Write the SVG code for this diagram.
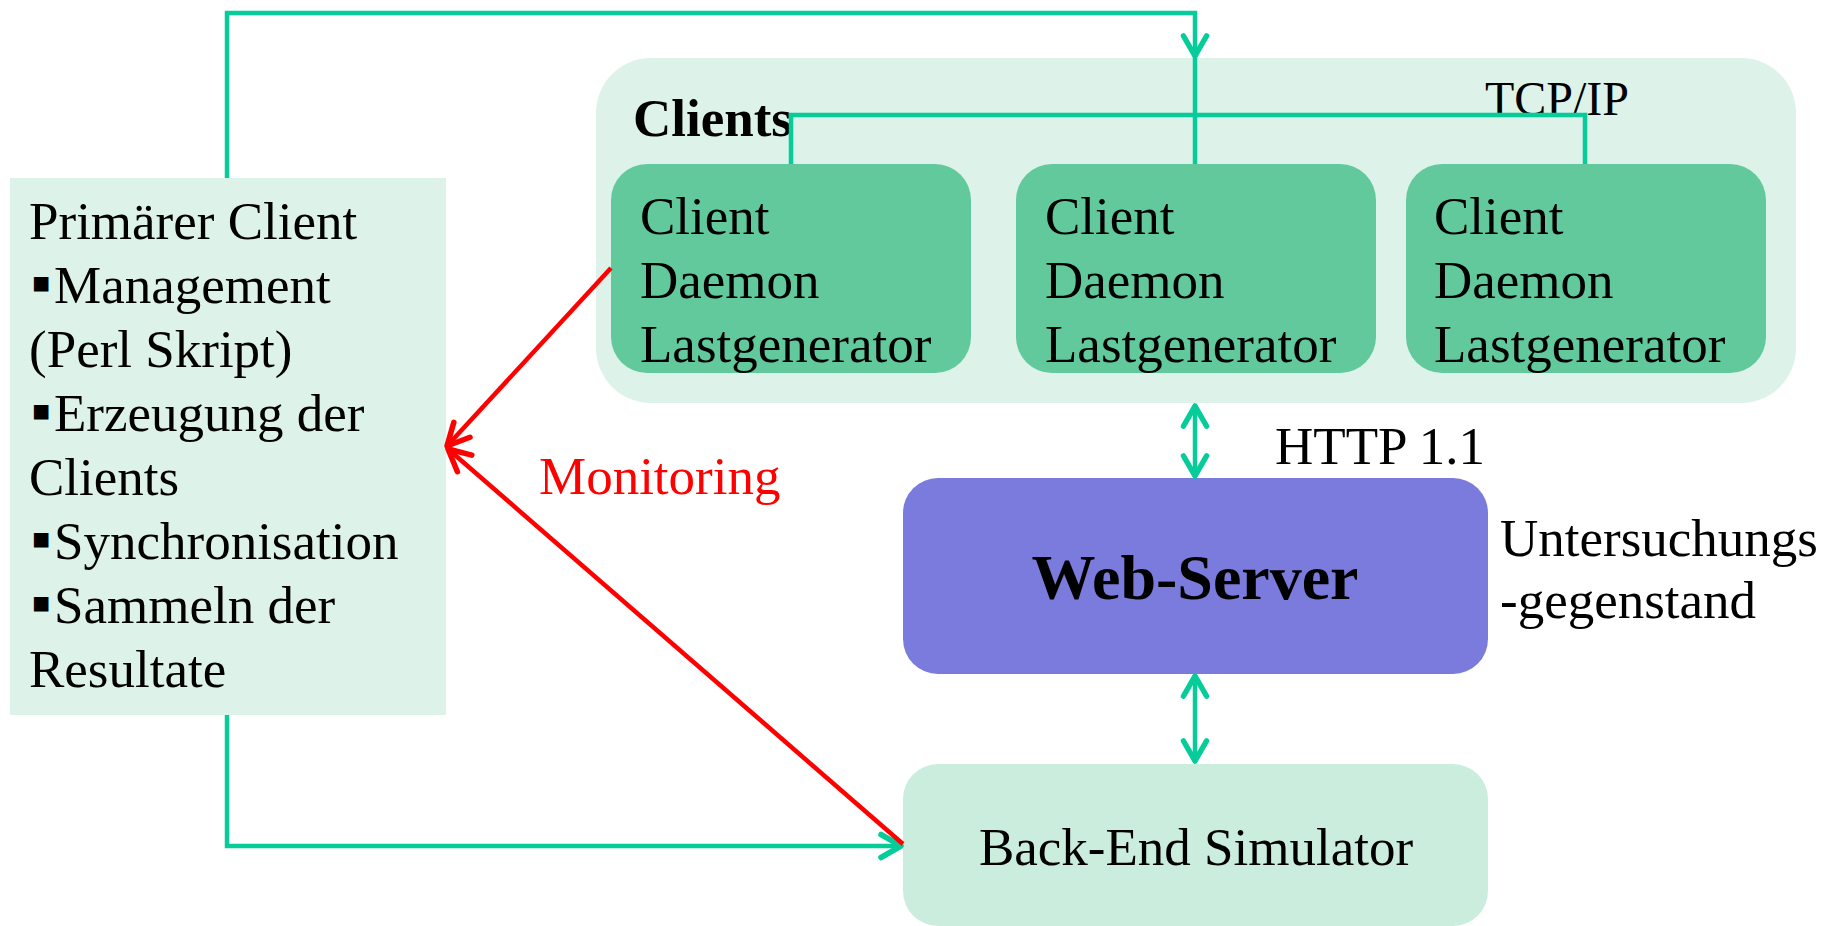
<svg xmlns="http://www.w3.org/2000/svg" width="1828" height="926" viewBox="0 0 1828 926">
  <style>
    .t { font-family: "Liberation Serif", "Times New Roman", serif; font-size: 53px; fill: #000; }
    .b { font-weight: bold; }
    .bul { font-family: "Liberation Sans", "DejaVu Sans", sans-serif; font-size: 30px; }
    .g { fill: none; stroke: #06CC9A; stroke-width: 4.5; }
    .r { fill: none; stroke: #FF0000; stroke-width: 4.5; }
  </style>
  <defs>
    <marker id="ag" markerUnits="userSpaceOnUse" markerWidth="40" markerHeight="40" viewBox="-30 -20 40 40" refX="0" refY="0" orient="auto-start-reverse">
      <path d="M -21 -11.5 L -1 0 L -21 11.5" fill="none" stroke="#06CC9A" stroke-width="5.5" stroke-linecap="round" stroke-linejoin="round"/>
    </marker>
    <marker id="ar" markerUnits="userSpaceOnUse" markerWidth="50" markerHeight="50" viewBox="-35 -25 50 50" refX="0" refY="0" orient="auto">
      <path d="M -22 -11 L 0 0 L -22 11" fill="none" stroke="#FF0000" stroke-width="5.5" stroke-linecap="round" stroke-linejoin="round"/>
    </marker>
  </defs>

  <rect width="1828" height="926" fill="#FFFFFF"/>

  <!-- Clients container -->
  <g id="clients">
    <rect x="596" y="58" width="1200" height="345" rx="55" fill="#DDF2E8"/>
    <text class="t b" x="633" y="136">Clients</text>
    <text class="t" x="1485" y="115" style="font-size:48px">TCP/IP</text>
  </g>

  <g id="client1">
    <rect x="611" y="164" width="360" height="209" rx="36" fill="#62C99D"/>
    <text class="t" x="640" y="234">Client</text>
    <text class="t" x="640" y="298">Daemon</text>
    <text class="t" x="640" y="362">Lastgenerator</text>
  </g>
  <g id="client2">
    <rect x="1016" y="164" width="360" height="209" rx="36" fill="#62C99D"/>
    <text class="t" x="1045" y="234">Client</text>
    <text class="t" x="1045" y="298">Daemon</text>
    <text class="t" x="1045" y="362">Lastgenerator</text>
  </g>
  <g id="client3">
    <rect x="1406" y="164" width="360" height="209" rx="36" fill="#62C99D"/>
    <text class="t" x="1434" y="234">Client</text>
    <text class="t" x="1434" y="298">Daemon</text>
    <text class="t" x="1434" y="362">Lastgenerator</text>
  </g>

  <g id="primary-client">
    <rect x="10" y="178" width="436" height="537" fill="#DDF2E8"/>
    <text class="t" x="29" y="239">Primärer Client</text>
    <text class="t"><tspan class="bul" x="32" y="293">■</tspan><tspan x="54" y="303">Management</tspan></text>
    <text class="t" x="29" y="367">(Perl Skript)</text>
    <text class="t"><tspan class="bul" x="32" y="421">■</tspan><tspan x="54" y="431">Erzeugung der</tspan></text>
    <text class="t" x="29" y="495">Clients</text>
    <text class="t"><tspan class="bul" x="32" y="549">■</tspan><tspan x="54" y="559">Synchronisation</tspan></text>
    <text class="t"><tspan class="bul" x="32" y="613">■</tspan><tspan x="54" y="623">Sammeln der</tspan></text>
    <text class="t" x="29" y="687">Resultate</text>
  </g>

  <g id="web-server">
    <rect x="903" y="478" width="585" height="196" rx="35" fill="#7B7BDD"/>
    <text class="t b" x="1195" y="599" text-anchor="middle" style="font-size:64px">Web-Server</text>
  </g>

  <g id="back-end">
    <rect x="903" y="764" width="585" height="162" rx="35" fill="#CBEDDE"/>
    <text class="t" x="1196" y="865" text-anchor="middle">Back-End Simulator</text>
  </g>

  <g id="labels">
    <text class="t" x="1275" y="464">HTTP 1.1</text>
    <text class="t" x="1500" y="556">Untersuchungs</text>
    <text class="t" x="1500" y="618">-gegenstand</text>
    <text class="t" x="539" y="494" style="fill:#FF0000">Monitoring</text>
  </g>

  <g id="connectors">
    <!-- control path from the primary client to the clients -->
    <path class="g" d="M 227 178 V 13 H 1195 V 57" marker-end="url(#ag)"/>
    <path class="g" d="M 1195 57 V 164"/>
    <!-- TCP/IP bus between the client machines -->
    <path class="g" d="M 791 164 V 115 H 1585 V 164"/>
    <!-- HTTP links -->
    <path class="g" d="M 1195 405 V 477" marker-start="url(#ag)" marker-end="url(#ag)"/>
    <path class="g" d="M 1195 675 V 762" marker-start="url(#ag)" marker-end="url(#ag)"/>
    <!-- primary client to back-end -->
    <path class="g" d="M 227 715 V 846 H 902" marker-end="url(#ag)"/>
    <!-- monitoring -->
    <path class="r" d="M 611 268 L 447 446" marker-end="url(#ar)"/>
    <path class="r" d="M 903 844 L 448 449" marker-end="url(#ar)"/>
  </g>
</svg>
